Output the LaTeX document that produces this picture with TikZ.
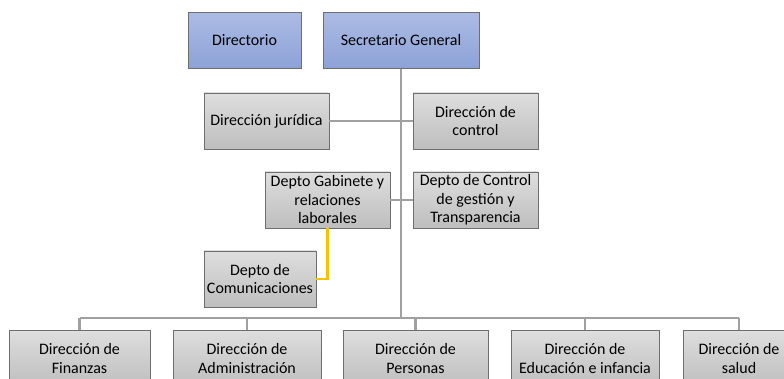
\documentclass[tikz,border=0pt]{standalone}
\usepackage{fontspec}
\setmainfont{Carlito}
\usepackage{tikz}
\usetikzlibrary{positioning}
\usetikzlibrary{calc}
\definecolor{boxline}{RGB}{110,110,110}
\definecolor{graytop}{RGB}{222,222,222}
\definecolor{graybot}{RGB}{190,190,190}
\definecolor{bluetop}{RGB}{172,187,228}
\definecolor{bluebot}{RGB}{140,162,214}
\definecolor{linkgray}{RGB}{160,160,160}
\definecolor{linkyellow}{RGB}{255,192,0}

\begin{document}
\begin{tikzpicture}[x=1pt,y=-1pt,
  unit/.style={draw=boxline,line width=0.8pt,top color=graytop,bottom color=graybot,
    minimum height=56pt,align=center,inner sep=1pt,
    font=\fontsize{16}{18.5}\selectfont},
  head/.style={unit,top color=bluetop,bottom color=bluebot},
  link/.style={draw=linkgray,line width=2.8pt},
  sublink/.style={draw=linkyellow,line width=2.4pt}]
  \useasboundingbox (0,0) rectangle (784,379);
  \clip (0,0) rectangle (784,379);
  % top level
  \node[head,minimum width=113pt] (dir) at (244.5,40.5) {Directorio};
  \node[head,minimum width=156pt] (sec) at (401,40.5) {Secretario General};
  % staff units beside the trunk
  \node[unit,minimum width=125pt] (jur) at (266.5,121) {Dirección jurídica};
  \node[unit,minimum width=125pt] (ctl) at (475.5,121) {Dirección de\\control};
  \node[unit,minimum width=125pt] (gab) at (327.5,200) {Depto Gabinete y\\relaciones\\laborales};
  \node[unit,minimum width=125pt] (cgt) at (475.5,200) {Depto de Control\\de gestión y\\Transparencia};
  \node[unit,minimum width=112pt] (com) at (260,279) {Depto de\\Comunicaciones};
  % line directorates (cut by the page edge)
  \node[unit,minimum width=141pt,anchor=north] (fin) at (79.5,330) {Dirección de\\Finanzas};
  \node[unit,minimum width=148pt,anchor=north] (adm) at (247,330) {Dirección de\\Administración};
  \node[unit,minimum width=145pt,anchor=north] (per) at (415.5,330) {Dirección de\\Personas};
  \node[unit,minimum width=148pt,anchor=north] (edu) at (585,330) {Dirección de\\Educación e infancia};
  \node[unit,minimum width=112pt,anchor=north] (sal) at (739,330) {Dirección de\\salud};
  % trunk and bar
  \coordinate (bar) at (401,318);
  \draw[link] (sec.south) -- (bar);
  \draw[link] (fin.north |- bar) -- (sal.north |- bar);
  \foreach \d in {fin,adm,per,edu,sal}
    \draw[link] (\d.north) -- (\d.north |- bar);
  % side units
  \draw[link] (jur.east) -- (ctl.west);
  \draw[link] (gab.east) -- (cgt.west);
  \draw[sublink] (gab.south) |- (com.east);
\end{tikzpicture}
\end{document}
